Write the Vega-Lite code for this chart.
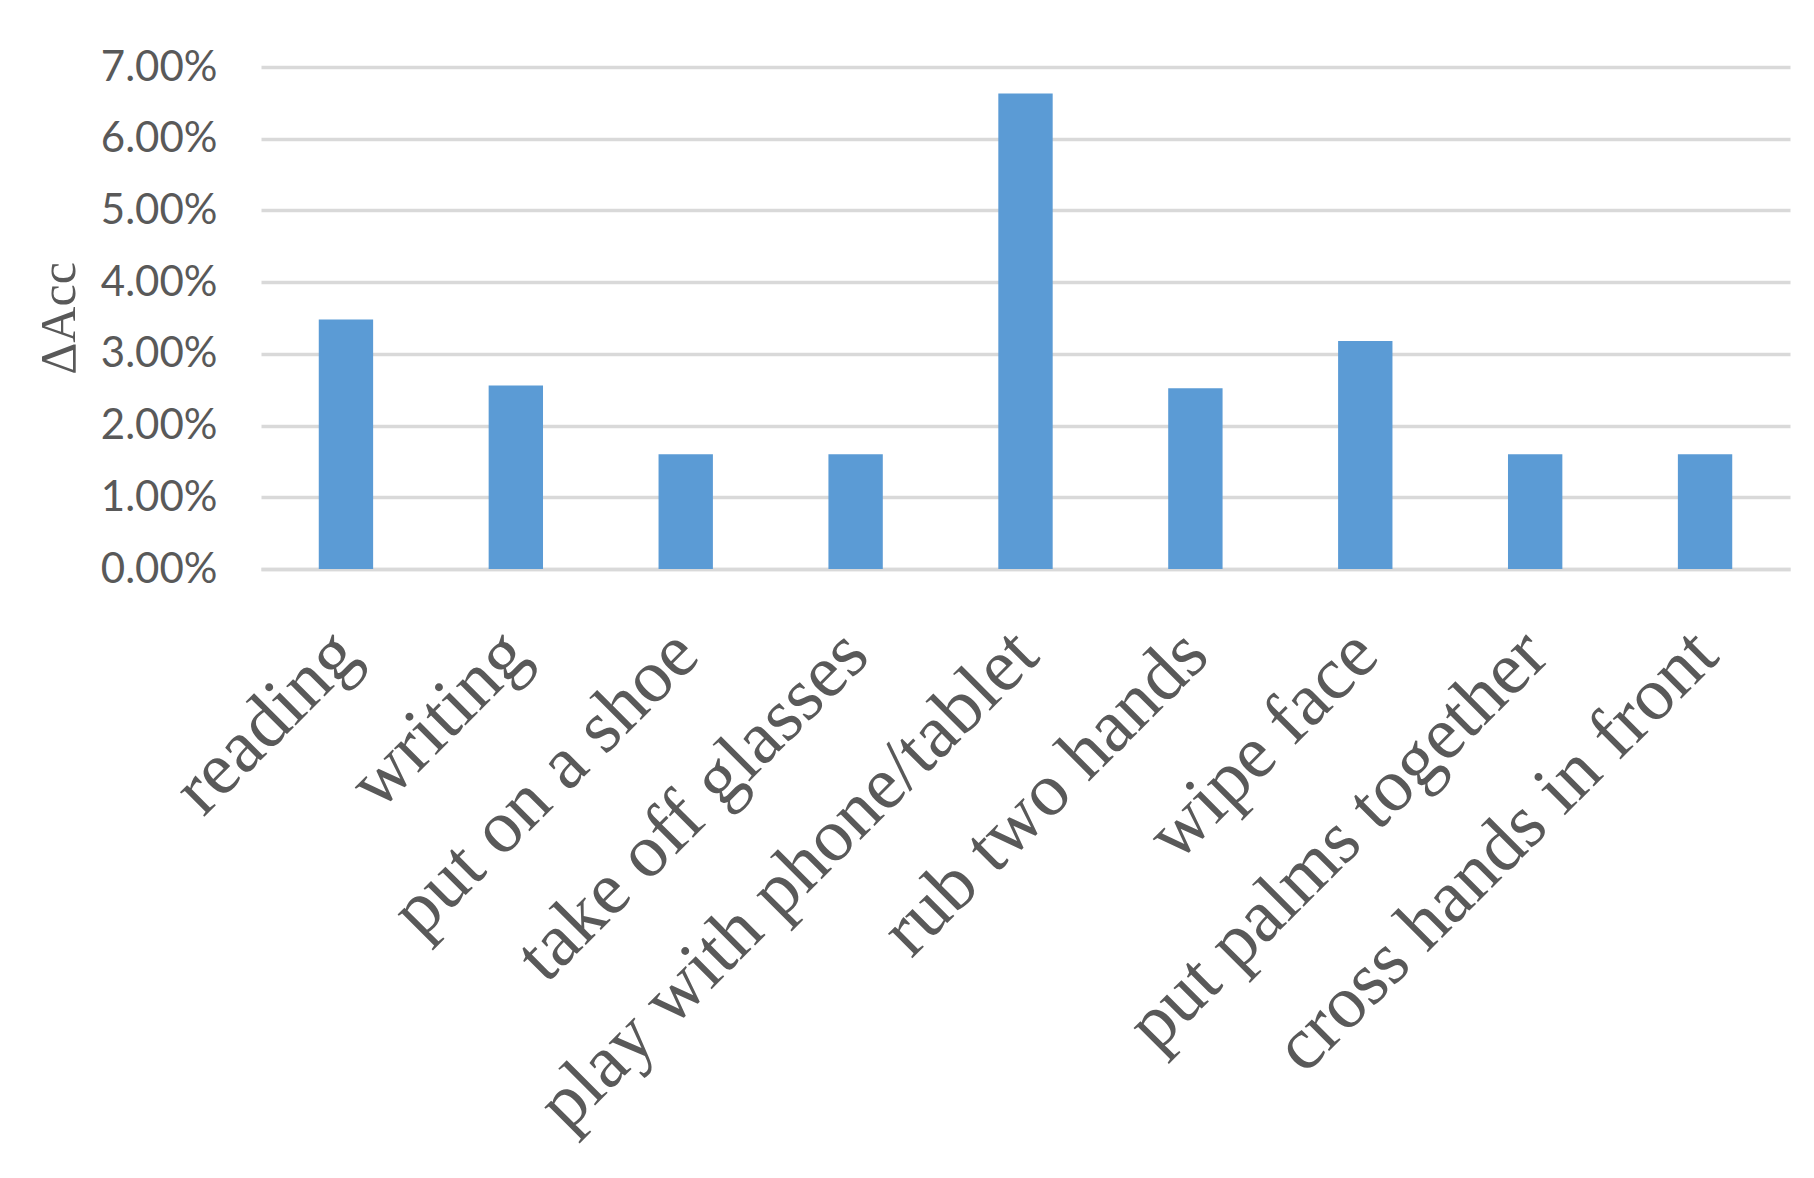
{
  "$schema": "https://vega.github.io/schema/vega-lite/v6.json",
  "autosize": "none",
  "padding": {"left": 261, "top": 67, "right": 24, "bottom": 609},
  "width": 1529,
  "height": 502,
  "background": "white",
  "data": {
    "values": [
      {"action": "reading", "acc": 0.0348},
      {"action": "writing", "acc": 0.0256},
      {"action": "put on a shoe", "acc": 0.0160},
      {"action": "take off glasses", "acc": 0.0160},
      {"action": "play with phone/tablet", "acc": 0.0663},
      {"action": "rub two hands", "acc": 0.0252},
      {"action": "wipe face", "acc": 0.0318},
      {"action": "put palms together", "acc": 0.0160},
      {"action": "cross hands in front", "acc": 0.0160}
    ]
  },
  "mark": {"type": "bar", "color": "#5B9BD5"},
  "encoding": {
    "x": {
      "field": "action",
      "type": "nominal",
      "sort": null,
      "scale": {"paddingInner": 0.68, "paddingOuter": 0.34},
      "axis": {
        "title": null,
        "labelAngle": -45,
        "labelAlign": "right",
        "labelBaseline": "middle",
        "labelFont": "Liberation Serif",
        "labelFontSize": 75,
        "labelColor": "#595959",
        "labelPadding": 73,
        "labelLimit": 0,
        "labelOverlap": false,
        "ticks": false,
        "domain": true,
        "domainColor": "#D9D9D9",
        "domainWidth": 3.5,
        "grid": false
      }
    },
    "y": {
      "field": "acc",
      "type": "quantitative",
      "scale": {"domain": [0, 0.07], "nice": false},
      "axis": {
        "title": "ΔAcc",
        "titleFont": "Liberation Serif",
        "titleFontSize": 50,
        "titleFontWeight": "normal",
        "titleColor": "#595959",
        "titlePadding": 16,
        "format": ".2%",
        "values": [0, 0.01, 0.02, 0.03, 0.04, 0.05, 0.06, 0.07],
        "labelFont": "Lato",
        "labelFontSize": 42,
        "labelColor": "#595959",
        "labelPadding": 44,
        "ticks": false,
        "domain": false,
        "grid": true,
        "gridColor": "#D9D9D9",
        "gridWidth": 3.5
      }
    }
  },
  "config": {
    "view": {"stroke": null}
  }
}
